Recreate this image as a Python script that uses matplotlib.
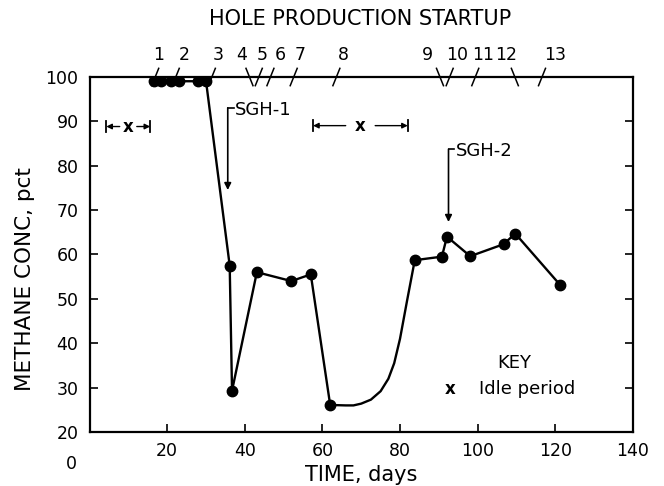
import matplotlib.pyplot as plt

# measured points, methane concentration vs time
days = [16.5, 18.5, 21.0, 23.0, 28.0, 30.0, 36.1, 36.7, 43.1, 52.0, 57.0, 62.0]
conc = [99.0, 99.0, 99.0, 99.0, 99.0, 99.0, 57.5, 29.3, 56.0, 54.0, 55.5, 26.1]
days2 = [83.8, 90.8, 92.1, 98.1, 106.7, 109.7, 121.3]
conc2 = [58.7, 59.5, 64.0, 59.6, 62.3, 64.7, 53.1]

# hand drawn recovery curve between the two groups
curve_days = [62.0, 66.0, 68.0, 70.0, 72.5, 75.0, 77.0, 78.5, 80.0, 81.8, 83.8]
curve_conc = [26.1, 26.0, 26.0, 26.4, 27.3, 29.2, 32.0, 35.5, 41.0, 49.5, 58.7]

# hole production startup (top scale)
hole_labels = ["1", "2", "3", "4", "5", "6", "7", "8", "9", "10", "11", "12", "13"]
hole_days = [16.0, 21.3, 30.6, 42.1, 42.7, 45.7, 51.7, 62.7, 91.2, 91.9, 98.5, 110.5, 115.7]
hole_lean = [1, 1, 1, -1, 1, 1, 1, 1, -1, 1, 1, -1, 1]
hole_label_days = [17.7, 24.4, 33.1, 39.3, 44.5, 49.1, 54.3, 65.3, 87.0, 94.8, 101.4, 107.4, 120.0]

# idle periods
idle_start = [4.3, 57.6]
idle_end = [15.6, 82.0]
idle_level = [88.8, 89.0]

fig = plt.figure(figsize=(6.64, 4.86), dpi=100)
ax = fig.add_axes([0.135, 0.111, 0.818, 0.731])

ax.plot(days, conc, "k-", lw=1.7, marker="o", ms=7.5, zorder=3)
ax.plot([days[-1]] + curve_days[1:], [conc[-1]] + curve_conc[1:], "k-", lw=1.7, zorder=3)
ax.plot(days2, conc2, "k-", lw=1.7, marker="o", ms=7.5, zorder=3)

ax.set_xlim(0, 140)
ax.set_ylim(20, 100)
ax.set_xticks(range(20, 141, 20))
ax.set_yticks(range(20, 101, 10))
ax.tick_params(direction="in", length=6, width=1.2, labelsize=12.5, pad=7,
               right=True, top=False)
ax.tick_params(axis="y", pad=8)
ax.text(-4.7, 12.9, "0", fontsize=12.5, ha="center", va="center", clip_on=False)
for s in ax.spines.values():
    s.set_linewidth(1.6)

ax.set_xlabel("TIME, days", fontsize=15, labelpad=4)
ax.set_ylabel("METHANE CONC, pct", fontsize=15.5)
ax.yaxis.set_label_coords(-0.101, 0.43)

# slanted startup marks on the top border
for d, lean, lab, ld in zip(hole_days, hole_lean, hole_labels, hole_label_days):
    ax.plot([d, d + lean * 1.8], [98.0, 101.9], "k-", lw=1.1, clip_on=False)
    ax.text(ld, 104.8, lab, fontsize=12.5, ha="center", va="center", clip_on=False)
ax.text(69.7, 113.0, "HOLE PRODUCTION STARTUP", fontsize=15, ha="center",
        va="center", clip_on=False)

# idle period markers
for a, b, lvl in zip(idle_start, idle_end, idle_level):
    mid = (a + b) / 2
    gap = 2.2 if b - a < 15 else 3.8
    ax.text(mid, lvl, "x", fontsize=12, ha="center", va="center", fontweight="bold")
    ax.plot([a, a], [lvl - 1.3, lvl + 1.3], "k-", lw=1.3)
    ax.plot([b, b], [lvl - 1.3, lvl + 1.3], "k-", lw=1.3)
    ax.annotate("", xy=(a, lvl), xytext=(mid - gap, lvl),
                arrowprops=dict(arrowstyle="-|>", color="k", lw=1.0,
                                mutation_scale=8, shrinkA=0, shrinkB=0))
    ax.annotate("", xy=(b, lvl), xytext=(mid + gap, lvl),
                arrowprops=dict(arrowstyle="-|>", color="k", lw=1.0,
                                mutation_scale=8, shrinkA=0, shrinkB=0))

# SGH markers
for x0, top, tip, lab in [(35.6, 93.0, 74.5, "SGH-1"), (92.5, 83.7, 67.3, "SGH-2")]:
    ax.plot([x0, x0 + 1.5], [top, top], "k-", lw=1.2)
    ax.annotate("", xy=(x0, tip), xytext=(x0, top),
                arrowprops=dict(arrowstyle="-|>", color="k", lw=1.2,
                                mutation_scale=10, shrinkA=0, shrinkB=0))
    ax.text(x0 + 1.8, top - 0.4, lab, fontsize=13, ha="left", va="center")

ax.text(109.4, 35.5, "KEY", fontsize=13, ha="center", va="center")
ax.text(92.8, 29.8, "x", fontsize=12, ha="center", va="center", fontweight="bold")
ax.text(100.3, 29.8, "Idle period", fontsize=13, ha="left", va="center")

fig.savefig("out.png", dpi=100)
